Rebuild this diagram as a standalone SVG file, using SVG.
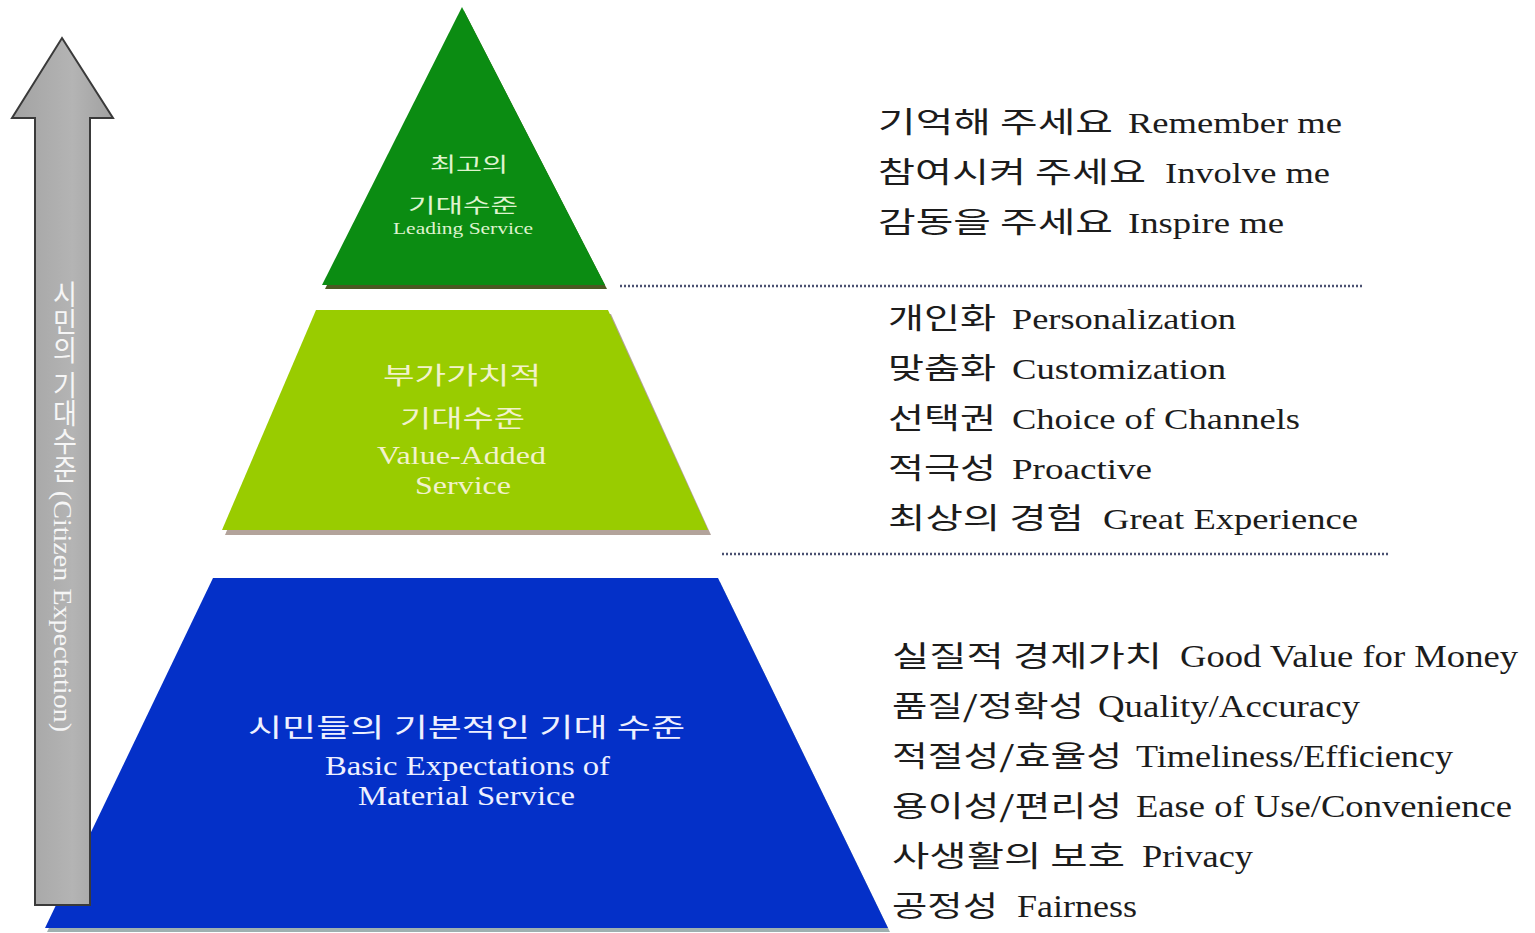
<svg xmlns="http://www.w3.org/2000/svg" width="1535" height="933" viewBox="0 0 1535 933">
<defs>
<linearGradient id="shaft" x1="0" y1="0" x2="1" y2="0">
<stop offset="0" stop-color="#a2a2a2"/>
<stop offset="0.6" stop-color="#b4b4b4"/>
<stop offset="1" stop-color="#a0a0a0"/>
</linearGradient>
</defs>
<style>
text{font-family:"Liberation Serif","Noto Sans CJK KR",serif;}
.k{font-family:"Noto Sans CJK KR","Liberation Sans",sans-serif;font-size:29px;fill:#1c1c1c;}
.e{font-size:30px;fill:#1c1c1c;}
.eb{font-size:32px;fill:#1c1c1c;}
.dot{stroke:#4a5070;stroke-width:2.5;stroke-dasharray:2 2;fill:none;}
</style>
<rect width="1535" height="933" fill="#ffffff"/>

<g id="level-basic">
<polygon points="215,582 720,582 890,932 47,932" fill="#9fb0b0"/>
<polygon points="213,578 718,578 888,928 45,928" fill="#0430c8"/>
<text x="248" y="737" font-size="26" fill="#eef0ff" textLength="437" lengthAdjust="spacingAndGlyphs">시민들의 기본적인 기대 수준</text>
<text x="325" y="775" font-size="27" fill="#eef0ff" textLength="285" lengthAdjust="spacingAndGlyphs">Basic Expectations of</text>
<text x="358" y="805" font-size="27" fill="#eef0ff" textLength="217" lengthAdjust="spacingAndGlyphs">Material Service</text>
</g>

<g id="level-value-added">
<polygon points="319,314 611,314 711,535 225,535" fill="#b3a39b"/>
<polygon points="316,310 608,310 708,530 222,530" fill="#99cc00"/>
<text x="383" y="384" font-size="24" fill="#f2f2cc" textLength="158" lengthAdjust="spacingAndGlyphs">부가가치적</text>
<text x="400" y="427" font-size="24" fill="#f2f2cc" textLength="125" lengthAdjust="spacingAndGlyphs">기대수준</text>
<text x="377" y="464" font-size="26" fill="#f2f2cc" textLength="169" lengthAdjust="spacingAndGlyphs">Value-Added</text>
<text x="415" y="494" font-size="26" fill="#f2f2cc" textLength="96" lengthAdjust="spacingAndGlyphs">Service</text>
</g>

<g id="level-leading">
<polygon points="464,11 607,289 325,289" fill="#4a5a22"/>
<polygon points="462,7 605,285 322,285" fill="#0b8c12"/>
<text x="430" y="172" font-size="20" fill="#dff3cf" textLength="78" lengthAdjust="spacingAndGlyphs">최고의</text>
<text x="408" y="213" font-size="20" fill="#dff3cf" textLength="110" lengthAdjust="spacingAndGlyphs">기대수준</text>
<text x="393" y="234" font-size="16" fill="#dff3cf" textLength="140" lengthAdjust="spacingAndGlyphs">Leading Service</text>
</g>

<g id="arrow">
<polygon points="62,38 113,118 90,118 90,905 35,905 35,118 12,118" fill="url(#shaft)" stroke="#3a3a3a" stroke-width="2" stroke-linejoin="miter"/>
<text x="62" y="280" writing-mode="tb" font-size="26" fill="#f6f6f6" textLength="452" lengthAdjust="spacingAndGlyphs">시민의 기대수준 (Citizen Expectation)</text>
</g>

<g id="connectors">
<line class="dot" x1="620" y1="286" x2="1362" y2="286"/>
<line class="dot" x1="722" y1="554" x2="1390" y2="554"/>
</g>

<g id="list-leading">
<text class="k" x="878" y="133" textLength="235" lengthAdjust="spacingAndGlyphs">기억해 주세요</text>
<text class="e" x="1128" y="133" textLength="214" lengthAdjust="spacingAndGlyphs">Remember me</text>
<text class="k" x="878" y="183" textLength="268" lengthAdjust="spacingAndGlyphs">참여시켜 주세요</text>
<text class="e" x="1165" y="183" textLength="165" lengthAdjust="spacingAndGlyphs">Involve me</text>
<text class="k" x="878" y="233" textLength="235" lengthAdjust="spacingAndGlyphs">감동을 주세요</text>
<text class="e" x="1128" y="233" textLength="156" lengthAdjust="spacingAndGlyphs">Inspire me</text>
</g>

<g id="list-value-added">
<text class="k" x="888" y="329" textLength="108" lengthAdjust="spacingAndGlyphs">개인화</text>
<text class="e" x="1012" y="329" textLength="224" lengthAdjust="spacingAndGlyphs">Personalization</text>
<text class="k" x="888" y="379" textLength="108" lengthAdjust="spacingAndGlyphs">맞춤화</text>
<text class="e" x="1012" y="379" textLength="214" lengthAdjust="spacingAndGlyphs">Customization</text>
<text class="k" x="888" y="429" textLength="108" lengthAdjust="spacingAndGlyphs">선택권</text>
<text class="e" x="1012" y="429" textLength="288" lengthAdjust="spacingAndGlyphs">Choice of Channels</text>
<text class="k" x="888" y="479" textLength="108" lengthAdjust="spacingAndGlyphs">적극성</text>
<text class="e" x="1012" y="479" textLength="140" lengthAdjust="spacingAndGlyphs">Proactive</text>
<text class="k" x="888" y="529" textLength="196" lengthAdjust="spacingAndGlyphs">최상의 경험</text>
<text class="e" x="1103" y="529" textLength="255" lengthAdjust="spacingAndGlyphs">Great Experience</text>
</g>

<g id="list-basic">
<text class="k" x="892" y="667" textLength="270" lengthAdjust="spacingAndGlyphs">실질적 경제가치</text>
<text class="eb" x="1180" y="667" textLength="338" lengthAdjust="spacingAndGlyphs">Good Value for Money</text>
<text class="k" x="892" y="717" textLength="192" lengthAdjust="spacingAndGlyphs">품질/정확성</text>
<text class="eb" x="1098" y="717" textLength="262" lengthAdjust="spacingAndGlyphs">Quality/Accuracy</text>
<text class="k" x="892" y="767" textLength="230" lengthAdjust="spacingAndGlyphs">적절성/효율성</text>
<text class="eb" x="1136" y="767" textLength="317" lengthAdjust="spacingAndGlyphs">Timeliness/Efficiency</text>
<text class="k" x="892" y="817" textLength="230" lengthAdjust="spacingAndGlyphs">용이성/편리성</text>
<text class="eb" x="1136" y="817" textLength="376" lengthAdjust="spacingAndGlyphs">Ease of Use/Convenience</text>
<text class="k" x="892" y="867" textLength="233" lengthAdjust="spacingAndGlyphs">사생활의 보호</text>
<text class="eb" x="1142" y="867" textLength="111" lengthAdjust="spacingAndGlyphs">Privacy</text>
<text class="k" x="892" y="917" textLength="106" lengthAdjust="spacingAndGlyphs">공정성</text>
<text class="eb" x="1017" y="917" textLength="120" lengthAdjust="spacingAndGlyphs">Fairness</text>
</g>
</svg>
